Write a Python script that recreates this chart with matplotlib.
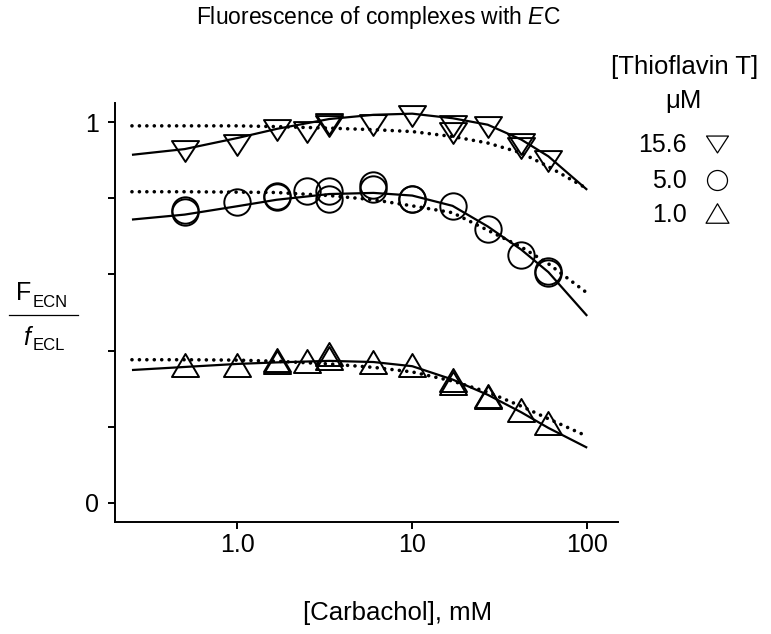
import matplotlib
matplotlib.use('Agg')
import matplotlib.pyplot as plt
from matplotlib.path import Path
from matplotlib.lines import Line2D
from matplotlib.ticker import NullLocator

plt.rcParams['font.family'] = ['Liberation Sans', 'DejaVu Sans']
plt.rcParams['mathtext.fontset'] = 'custom'
plt.rcParams['mathtext.rm'] = 'Liberation Sans'
plt.rcParams['mathtext.it'] = 'Liberation Sans:italic'

# ---------------- data ----------------
carbachol = [0.5, 1.0, 1.68, 2.5, 3.36, 6.0, 10, 17, 27, 42, 60]
tfl_15_6 = [0.923, 0.939, 0.980, 0.974, 0.995, 0.991, 1.017, 0.989, 0.988, 0.943, 0.898]
tfl_5_0 = [0.763, 0.789, 0.802, 0.818, 0.820, 0.835, 0.799, 0.780, 0.720, 0.652, 0.605]
tfl_1_0 = [0.363, 0.363, 0.375, 0.373, 0.392, 0.370, 0.363, 0.322, 0.282, 0.245, 0.209]

# replicate points (overlapping markers)
rep_x_15_6 = [3.36, 17, 42]
rep_15_6 = [0.990, 0.971, 0.933]
rep_x_5_0 = [0.5, 1.68, 3.36, 6.0, 10, 60]
rep_5_0 = [0.768, 0.805, 0.799, 0.825, 0.797, 0.608]
rep_x_1_0 = [1.68, 3.36, 17, 27]
rep_1_0 = [0.370, 0.380, 0.315, 0.279]

# fitted curves
fit_x = [0.25, 0.5, 1.0, 1.68, 3.36, 6.0, 10, 17, 27, 42, 60, 100]
solid_15_6 = [0.914, 0.929, 0.958, 0.982, 1.008, 1.019, 1.022, 1.010, 0.993, 0.954, 0.910, 0.822]
dotted_15_6 = [0.990, 0.990, 0.990, 0.988, 0.984, 0.980, 0.975, 0.962, 0.945, 0.919, 0.883, 0.825]
solid_5_0 = [0.744, 0.757, 0.779, 0.796, 0.811, 0.814, 0.807, 0.780, 0.726, 0.665, 0.606, 0.491]
dotted_5_0 = [0.817, 0.817, 0.816, 0.815, 0.807, 0.796, 0.780, 0.762, 0.716, 0.672, 0.628, 0.551]
solid_1_0 = [0.349, 0.357, 0.365, 0.369, 0.373, 0.370, 0.359, 0.324, 0.284, 0.238, 0.197, 0.145]
dotted_1_0 = [0.376, 0.376, 0.375, 0.372, 0.365, 0.356, 0.344, 0.320, 0.291, 0.254, 0.221, 0.175]

x_ticks = [1, 10, 100]
x_ticklabels = ['1.0', '10', '100']
y_ticks = [0, 0.2, 0.4, 0.6, 0.8, 1.0]
y_ticklabels = ['0', '', '', '', '', '1']

legend_title = '[Thioflavin T]'
legend_unit = 'μM'
legend_labels = ['15.6', '5.0', '1.0']

# ---------------- figure ----------------
W, H = 771, 634
fig = plt.figure(figsize=(W / 100, H / 100), dpi=100)


def fx(px):
    return px / W


def fy(py):
    return 1 - py / H


ax = fig.add_axes([fx(115), fy(522), (618 - 115) / W, (522 - 103) / H])

TRI_DOWN = Path([(-1, 0.77), (1, 0.77), (0, -0.77), (-1, 0.77)], closed=True)
TRI_UP = Path([(-1, -0.85), (1, -0.85), (0, 0.85), (-1, -0.85)], closed=True)

solid_kw = dict(color='black', lw=1.6, solid_capstyle='butt')
dot_kw = dict(color='black', lw=2.6, linestyle=(0, (0.01, 2.05)), dash_capstyle='round')

for s, d in [(solid_15_6, dotted_15_6), (solid_5_0, dotted_5_0), (solid_1_0, dotted_1_0)]:
    ax.plot(fit_x, s, **solid_kw, zorder=2)
    ax.plot(fit_x, d, **dot_kw, zorder=2)

mk = dict(linestyle='none', mfc='none', mec='black', mew=1.4, zorder=3)
ax.plot(carbachol, tfl_15_6, marker=TRI_DOWN, ms=19.5, **mk)
ax.plot(rep_x_15_6, rep_15_6, marker=TRI_DOWN, ms=19.5, **mk)
ax.plot(carbachol, tfl_5_0, marker='o', ms=19, **mk)
ax.plot(rep_x_5_0, rep_5_0, marker='o', ms=19, **mk)
ax.plot(carbachol, tfl_1_0, marker=TRI_UP, ms=19.5, **mk)
ax.plot(rep_x_1_0, rep_1_0, marker=TRI_UP, ms=19.5, **mk)

ax.set_xscale('log')
ax.set_xlim(0.2, 150)
ax.set_ylim(-0.05, 1.05)
ax.set_xticks(x_ticks)
ax.set_xticklabels(x_ticklabels)
ax.xaxis.set_minor_locator(NullLocator())
ax.set_yticks(y_ticks)
ax.set_yticklabels(y_ticklabels)
for sp in ['top', 'right']:
    ax.spines[sp].set_visible(False)
for sp in ['left', 'bottom']:
    ax.spines[sp].set_linewidth(1.4)
ax.tick_params(axis='both', direction='out', length=4.8, width=1.4, labelsize=18)
ax.tick_params(axis='x', pad=3)
ax.tick_params(axis='y', pad=7)

# title
fig.text(fx(378.5), fy(24), r'Fluorescence of complexes with $\mathit{E}$C',
         ha='center', va='baseline', fontsize=16.5)

# x label
fig.text(fx(397.5), fy(620), '[Carbachol], mM', ha='center', va='baseline', fontsize=18.5)

# y label (fraction)
fig.text(fx(16), fy(300), 'F', ha='left', va='baseline', fontsize=18)
fig.text(fx(33), fy(307), 'ECN', ha='left', va='baseline', fontsize=12)
fig.add_artist(Line2D([fx(9), fx(78)], [fy(315), fy(315)], color='black', lw=0.9,
                      transform=fig.transFigure))
fig.text(fx(23), fy(345), r'$\mathit{f}$', ha='left', va='baseline', fontsize=18)
fig.text(fx(33), fy(350), 'ECL', ha='left', va='baseline', fontsize=12)

# legend
fig.text(fx(685), fy(74), legend_title, ha='center', va='baseline', fontsize=18.5)
fig.text(fx(683), fy(108), legend_unit, ha='center', va='baseline', fontsize=18.5)
leg_base = [152, 188, 222]
leg_center = [143.5, 180, 213]
leg_markers = [TRI_DOWN, 'o', TRI_UP]
leg_ms = [15.8, 14.4, 16.5]
for lab, b, c, m, s in zip(legend_labels, leg_base, leg_center, leg_markers, leg_ms):
    fig.text(fx(687), fy(b), lab, ha='right', va='baseline', fontsize=18)
    fig.add_artist(Line2D([fx(717)], [fy(c)], marker=m, ms=s, mfc='none', mec='black',
                          mew=0.9, linestyle='none', transform=fig.transFigure))

fig.savefig('out.png', dpi=100)
